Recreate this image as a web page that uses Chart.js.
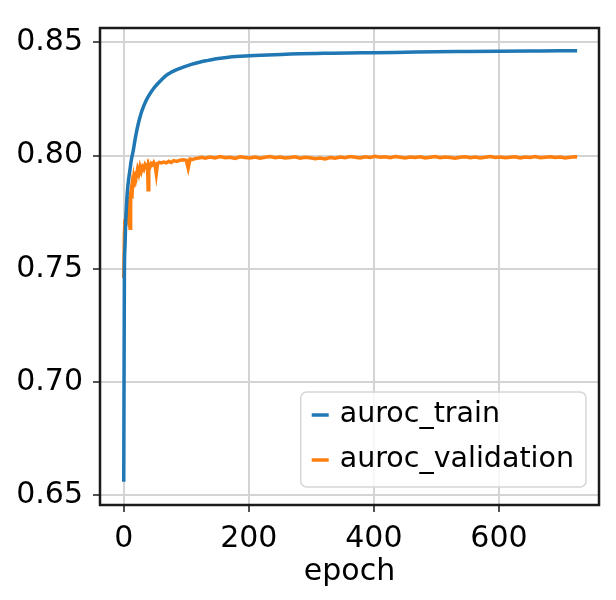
<!DOCTYPE html>
<html>
<head>
<meta charset="utf-8">
<script src="https://cdn.jsdelivr.net/npm/chart.js@4.4.0/dist/chart.umd.min.js"></script>
<style>
  html, body { margin: 0; padding: 0; background: #fff; }
  #wrap { width: 616px; height: 600px; }
</style>
</head>
<body>
<div id="wrap"><canvas id="myChart" width="616" height="600"></canvas></div>
<script>
// values
var trainEpochs = [0, 1, 2, 3, 4, 5, 6, 8, 10, 12, 15, 18, 20, 24, 28, 32, 36, 41, 48, 55, 62, 68, 75, 82, 94,
    108, 121, 135, 148, 165, 180, 201, 230, 260, 281, 320, 360, 400, 450, 500, 550, 600, 650, 700, 725];
var trainAuroc = [0.656, 0.748, 0.760, 0.770, 0.776, 0.781, 0.785, 0.790, 0.794, 0.798, 0.802, 0.807, 0.810, 0.815,
    0.819, 0.822, 0.8245, 0.827, 0.8298, 0.832, 0.834, 0.8355, 0.8367, 0.8377, 0.8390,
    0.8403, 0.8413, 0.8421, 0.8428, 0.8434, 0.8438, 0.8441, 0.8445, 0.8448, 0.8450, 0.8452, 0.8454, 0.8455,
    0.8457, 0.8459, 0.8460, 0.8461, 0.8462, 0.8463, 0.8463];

var validEpochs = [0, 1, 2, 3, 4, 5, 6, 7, 8, 9, 10, 11, 12, 13, 14, 15, 16, 17, 18, 19, 20, 22, 24, 26, 28, 30,
    32, 34, 36, 38, 39, 40, 42, 44, 46, 48, 50, 52, 54, 57, 60, 64, 68, 72, 76, 80, 85, 90, 95, 100, 103, 106,
    110, 115, 120, 125, 130, 138, 146, 154, 162, 170, 178, 186, 194, 202, 210, 218, 226, 234, 242, 250, 258,
    266, 274, 282, 290, 298, 306, 314, 322, 330, 338, 346, 354, 362, 370, 378, 386, 394, 402, 410, 418, 426,
    434, 442, 450, 458, 466, 474, 482, 490, 498, 506, 514, 522, 530, 538, 546, 554, 562, 570, 578, 586, 594,
    602, 610, 618, 626, 634, 642, 650, 658, 666, 674, 682, 690, 698, 706, 714, 722, 725];
var validAuroc = [0.746, 0.765, 0.772, 0.769, 0.775, 0.773, 0.779, 0.776, 0.782, 0.770, 0.768, 0.783, 0.785,
    0.781, 0.787, 0.789, 0.786, 0.791, 0.789, 0.793, 0.791, 0.794, 0.792, 0.795, 0.793, 0.795,
    0.794, 0.796, 0.795, 0.796, 0.785, 0.796, 0.795, 0.7965, 0.796, 0.797, 0.796, 0.792, 0.7965, 0.797, 0.7968,
    0.7972, 0.7968, 0.7975, 0.797, 0.7978, 0.7975, 0.798, 0.7982, 0.798, 0.7945, 0.7985,
    0.7983, 0.7988, 0.799, 0.7993, 0.7989, 0.7994, 0.7990, 0.7996, 0.7991, 0.7993, 0.7988, 0.7995, 0.7992,
    0.7990, 0.7994, 0.7989, 0.7993, 0.7996, 0.7991, 0.7994, 0.7990, 0.7992, 0.7995, 0.7989, 0.7993,
    0.7991, 0.7987, 0.7990, 0.7986, 0.7992, 0.7989, 0.7994, 0.7991, 0.7996, 0.7993, 0.7990, 0.7995,
    0.7992, 0.7997, 0.7993, 0.7995, 0.7991, 0.7996, 0.7993, 0.7990, 0.7994, 0.7992, 0.7995, 0.7990,
    0.7993, 0.7996, 0.7991, 0.7994, 0.7992, 0.7989, 0.7993, 0.7995, 0.7991, 0.7994, 0.7990, 0.7993,
    0.7996, 0.7992, 0.7994, 0.7991, 0.7993, 0.7995, 0.7990, 0.7994, 0.7992, 0.7996, 0.7991, 0.7993,
    0.7995, 0.7992, 0.7994, 0.7990, 0.7993, 0.7995, 0.7994];

var xTicks = [0, 200, 400, 600];
var yTicks = [0.65, 0.70, 0.75, 0.80, 0.85];

var fontFam = "'DejaVu Sans', sans-serif";

function toPoints(xs, ys) {
    var out = [];
    for (var i = 0; i < xs.length; i++) out.push({x: xs[i], y: ys[i]});
    return out;
}

// frame round the plot area
var framePlugin = {
    id: 'frame',
    afterDraw: function (chart) {
        var a = chart.chartArea, c = chart.ctx;
        c.save();
        c.strokeStyle = '#1a1a1a';
        c.lineWidth = 2.5;
        c.strokeRect(a.left, a.top, a.right - a.left, a.bottom - a.top);
        c.restore();
    }
};

// matplotlib-like legend in the lower right corner
var legendPlugin = {
    id: 'boxLegend',
    afterDatasetsDraw: function (chart) {
        var a = chart.chartArea, c = chart.ctx;
        var ds = chart.data.datasets;
        c.save();
        c.font = '28.5px ' + fontFam;
        var maxW = 0;
        ds.forEach(function (d) { maxW = Math.max(maxW, c.measureText(d.label).width); });
        var w = 39 + maxW + 12, h = 95;
        var x = a.right - 13 - w, y = a.bottom - 18 - h;
        c.beginPath();
        c.roundRect(x, y, w, h, 6);
        c.fillStyle = 'rgba(255,255,255,0.8)';
        c.fill();
        c.strokeStyle = '#d6d6d6';
        c.lineWidth = 1.5;
        c.stroke();
        ds.forEach(function (d, i) {
            var cy = y + 23 + i * 45;
            c.strokeStyle = d.borderColor;
            c.lineWidth = 3.5;
            c.beginPath();
            c.moveTo(x + 11, cy);
            c.lineTo(x + 28, cy);
            c.stroke();
            c.fillStyle = '#000';
            c.textBaseline = 'middle';
            c.textAlign = 'left';
            c.fillText(d.label, x + 39, cy);
        });
        c.restore();
    }
};

const ctx = document.getElementById('myChart');
var cht = new Chart(ctx, {
    type: 'line',
    data: {
        datasets: [{
            label: 'auroc_train',
            data: toPoints(trainEpochs, trainAuroc),
            borderColor: '#1f77b4',
            borderWidth: 3.5,
            pointRadius: 0,
            cubicInterpolationMode: 'monotone'
        }, {
            label: 'auroc_validation',
            data: toPoints(validEpochs, validAuroc),
            borderColor: '#ff7f0e',
            borderWidth: 3.5,
            pointRadius: 0,
            tension: 0
        }]
    },
    options: {
        responsive: false,
        animation: false,
        layout: { padding: { left: 0, right: 17, top: 14, bottom: 0 } },
        plugins: { legend: { display: false }, tooltip: { enabled: false } },
        scales: {
            x: {
                type: 'linear',
                min: -38,
                max: 760,
                afterBuildTicks: function (s) { s.ticks = xTicks.map(function (v) { return {value: v}; }); },
                afterFit: function (s) { s.height = 95; },
                grid: { color: '#d4d4d4', lineWidth: 2, tickColor: '#1a1a1a', tickLength: 7, tickWidth: 1.5 },
                border: { display: false },
                ticks: { color: '#000', font: { size: 30, family: fontFam }, padding: 9, maxRotation: 0 },
                title: { display: true, text: 'epoch', color: '#000', font: { size: 30, family: fontFam }, padding: { top: 0, bottom: 10 } }
            },
            y: {
                min: 0.6457,
                max: 0.8564,
                afterBuildTicks: function (s) { s.ticks = yTicks.map(function (v) { return {value: v}; }); },
                afterFit: function (s) { s.width = 100; },
                grid: { color: '#d4d4d4', lineWidth: 2, tickColor: '#1a1a1a', tickLength: 7, tickWidth: 1.5 },
                border: { display: false },
                ticks: {
                    color: '#000', font: { size: 30, family: fontFam }, padding: 10,
                    callback: function (v) { return v.toFixed(2); }
                }
            }
        }
    },
    plugins: [legendPlugin, framePlugin]
});
</script>
</body>
</html>
